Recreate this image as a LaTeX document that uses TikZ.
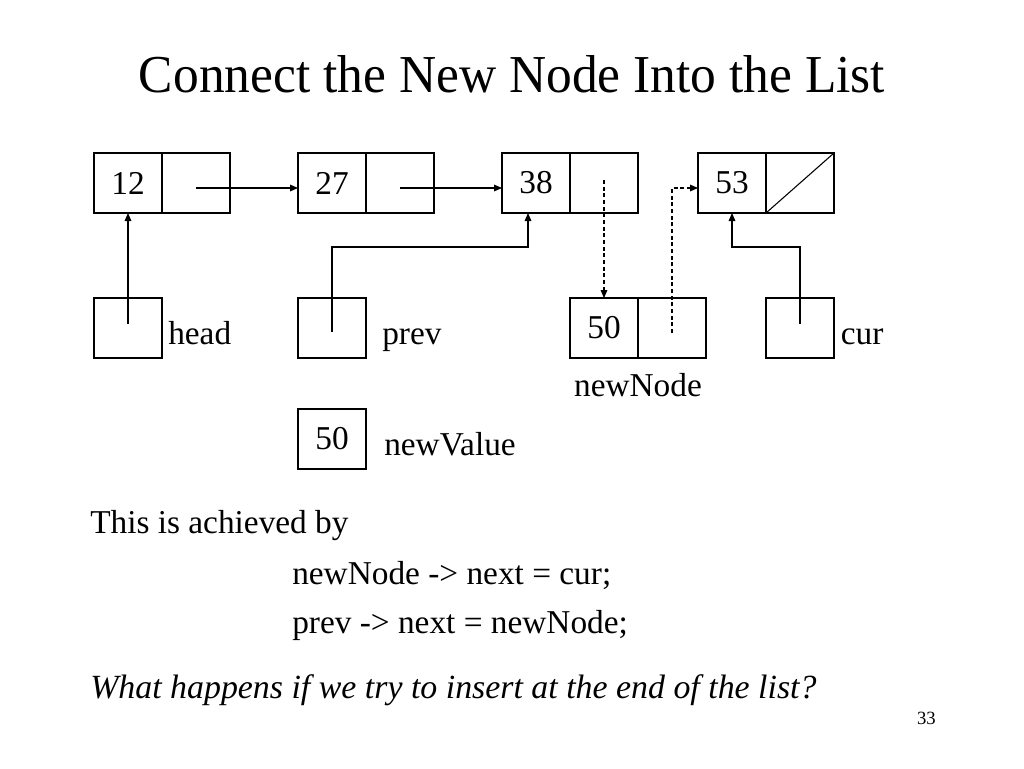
\documentclass[tikz,border=0pt]{standalone}
\usepackage{fontspec}
\setmainfont{Liberation Serif}
\newfontfamily\titlefont[FakeStretch=0.965]{Liberation Serif}
\usetikzlibrary{arrows.meta,positioning,calc}
\tikzstyle{cell}=[draw,line width=0.8pt,minimum width=51pt,minimum height=45pt,inner sep=0pt,outer sep=0pt,font=\fontsize{25}{30}\selectfont]
\tikzstyle{ptr}=[line width=0.8pt,-{Triangle[length=6pt,width=5pt]}]
\tikzstyle{lbl}=[inner sep=0pt,anchor=base west,font=\fontsize{25}{30}\selectfont]

\begin{document}
\begin{tikzpicture}[x=0.75pt,y=-0.75pt]
\useasboundingbox (0,0) rectangle (1024,768);
\node [anchor=base,inner sep=0pt,font=\titlefont\fontsize{40}{48}\selectfont] (title) at (512,92) {Connect the New Node Into the List};
\node [cell,anchor=north west] (d12) at (94,153) {12};
\node [cell,right=0pt of d12] (p12) {};
\node [cell,right=51pt of p12] (d27) {27};
\node [cell,right=0pt of d27] (p27) {};
\node [cell,right=51pt of p27] (d38) {38};
\node [cell,right=0pt of d38] (p38) {};
\node [cell,right=45pt of p38] (d53) {53};
\node [cell,right=0pt of d53] (p53) {};
\node [cell,below=63.75pt of d12] (head) {};
\node [cell,below=63.75pt of d27] (prev) {};
\node [cell,below=63.75pt of p38] (nd) {50};
\node [cell,right=0pt of nd] (np) {};
\node [cell,below=63.75pt of p53] (cur) {};
\node [cell,below=38.25pt of prev] (val) {50};
\node [lbl] (headlbl) at ([xshift=4.5pt,yshift=-12pt]head.east) {head};
\node [lbl] (prevlbl) at ([xshift=12pt,yshift=-12pt]prev.east) {prev};
\node [lbl] (curlbl) at ([xshift=5pt,yshift=-12pt]cur.east) {cur};
\node [lbl,anchor=base] (ndlbl) at ([yshift=-28.5pt]nd.south east) {newNode};
\node [lbl] (vallbl) at ([xshift=13.5pt,yshift=-12.4pt]val.east) {newValue};
\draw [ptr] ([yshift=-3.75pt]p12.center) -- ([yshift=-3.75pt]d27.west);
\draw [ptr] ([yshift=-3.75pt]p27.center) -- ([yshift=-3.75pt]d38.west);
\draw [ptr] ([yshift=3pt]head.center) -- (d12.south);
\draw [ptr] ([yshift=-3pt]prev.center) |- ([xshift=-6pt,yshift=-25.5pt]d38.south) -- ([xshift=-6pt]d38.south);
\draw [ptr] ([yshift=3pt]cur.center) |- ([yshift=-25.5pt]d53.south) -- (d53.south);
\draw [ptr,dash pattern=on 3pt off 2pt] ([yshift=2.25pt]p38.center) -- (nd.north);
\draw [ptr,dash pattern=on 3pt off 2pt] ([yshift=-3.75pt]np.center) |- ([yshift=-3.75pt]d53.west);
\draw [line width=0.8pt] (p53.south west) -- (p53.north east);
\node [lbl] (txt1) at (90,533) {This is achieved by};
\node [lbl] (txt2) at (292,584) {newNode -> next = cur;};
\node [lbl] (txt3) at (292,633) {prev -> next = newNode;};
\node [lbl,font=\fontsize{25.4}{30}\selectfont\itshape] (quest) at (90,698) {What happens if we try to insert at the end of the list?};
\node [anchor=base east,inner sep=0pt,font=\fontsize{14}{16}\selectfont] (page) at (936,724) {33};
\end{tikzpicture}
\end{document}
